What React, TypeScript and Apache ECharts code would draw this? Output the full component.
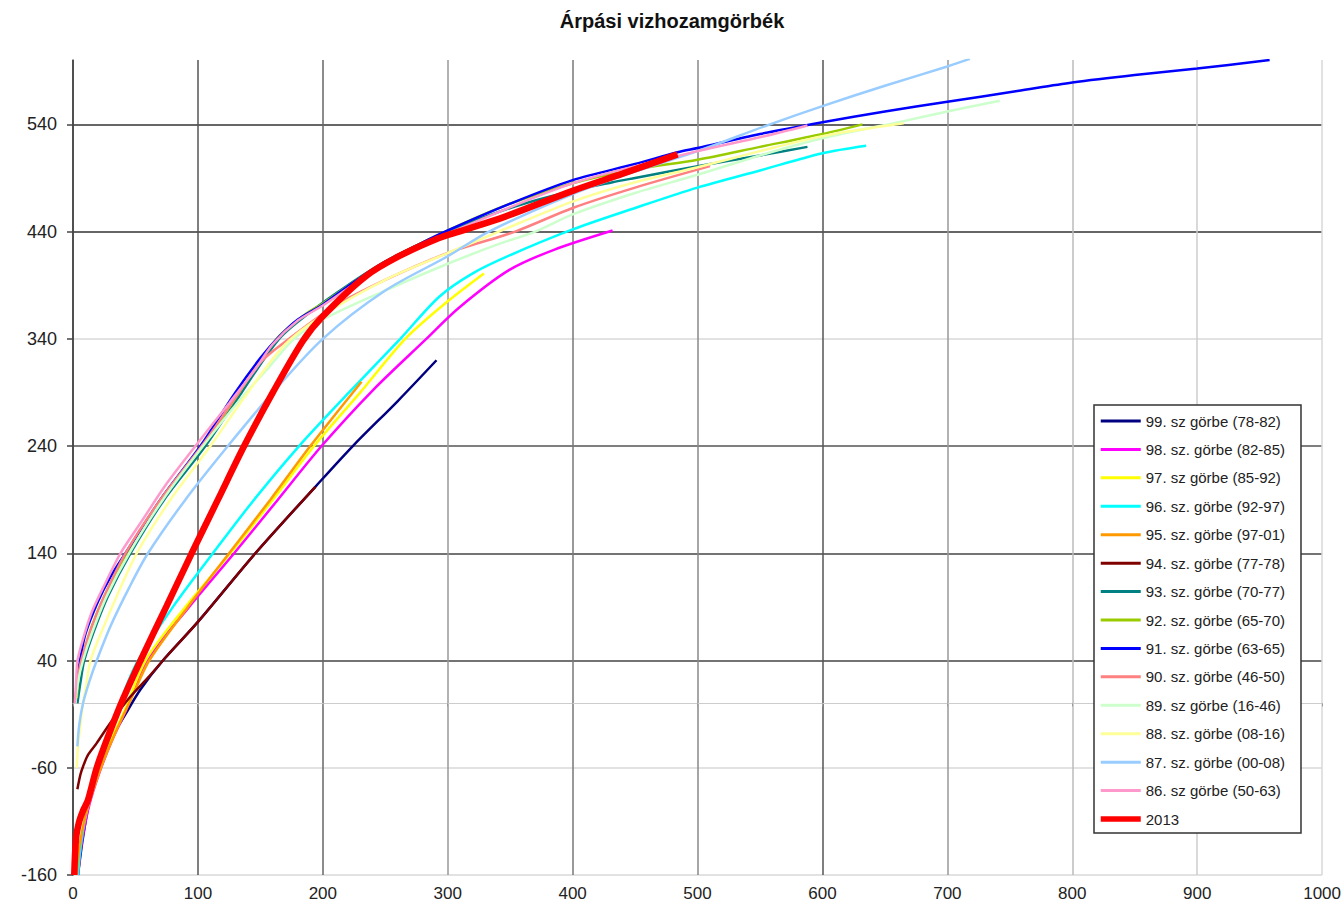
import React, { useEffect, useRef } from "react";
import * as echarts from "echarts";

const TITLE = "Árpási vizhozamgörbék";

const seriesNames = [
  "99. sz görbe (78-82)",
  "98. sz. görbe (82-85)",
  "97. sz görbe (85-92)",
  "96. sz. görbe (92-97)",
  "95. sz. görbe (97-01)",
  "94. sz. görbe (77-78)",
  "93. sz. görbe (70-77)",
  "92. sz. görbe (65-70)",
  "91. sz. görbe (63-65)",
  "90. sz. görbe (46-50)",
  "89. sz görbe (16-46)",
  "88. sz. görbe (08-16)",
  "87. sz. görbe (00-08)",
  "86. sz görbe (50-63)",
  "2013",
];

const seriesColors = [
  "#000080", "#FF00FF", "#FFFF00", "#00FFFF", "#FF9900",
  "#800000", "#008080", "#99CC00", "#0000FF", "#FF8080",
  "#CCFFCC", "#FFFF99", "#99CCFF", "#FF99CC", "#FF0000",
];

const seriesWidths = [2.5, 2.5, 2.5, 2.5, 2.5, 2.5, 2.5, 2.5, 2.5, 2.5, 2.5, 2.5, 2.5, 2.5, 6.5];
const legendWidths = [3, 3, 3, 3, 3, 3, 3, 3, 3, 3, 3, 3, 3, 3, 5.5];

// [discharge, water level]
const s99 = [[4,-160],[8,-125],[15,-80],[22,-55],[30,-34],[42,-10],[54,13],[72,40],[100,76],[146,140],[194,202],[224,240],[260,282],[291,320]];
const s98 = [[4,-160],[7,-130],[13,-95],[21,-65],[31,-35],[43,-5],[59,40],[93,90],[129,140],[164,190],[199,240],[240,292],[282,339],[309,369],[349,404],[385,423],[432,441]];
const s97 = [[3,-160],[6,-130],[12,-95],[20,-65],[30,-35],[42,-5],[58,40],[90,90],[126,140],[160,190],[193,240],[230,290],[266,340],[300,375],[329,401]];
const s96 = [[4,-160],[6,-135],[10,-105],[16,-80],[25,-45],[35,-10],[44,20],[52,40],[80,90],[112,140],[145,190],[181,240],[221,290],[262,340],[293,379],[320,401],[350,418],[400,442],[450,462],[500,481],[550,497],[600,513],[635,520]];
const s95 = [[3,-160],[5,-135],[10,-105],[17,-78],[25,-52],[36,-22],[48,8],[61,40],[92,90],[125,140],[158,190],[190,240],[231,300]];
const s94 = [[3.5,-80],[6,-66],[8,-59],[12,-48],[19,-37],[30,-18],[45,5],[60,24],[75,44],[100,76],[146,140],[194,202]];
const s93 = [[3.5,0],[6,20],[9,40],[16,65],[28,100],[46,140],[73,190],[106,240],[135,290],[165,340],[190,365],[220,390],[250,412],[300,440],[350,462],[400,478],[432,486],[450,490],[500,501],[550,511],[588,519]];
const s92 = [[3,5],[5,30],[8,45],[15,72],[25,100],[43,140],[70,190],[104,240],[133,290],[163,340],[185,362],[200,373],[250,412],[300,441],[350,466],[400,485],[450,498],[500,507],[550,519],[600,531],[632,540]];
const s91 = [[3,20],[5.6,40],[10,65],[20,95],[30,118],[42,140],[70,190],[102,240],[130,290],[150,322],[165,342],[180,358],[200,372],[225,393],[250,412],[275,427],[300,441],[350,466],[400,488],[450,503],[484,514],[500,518],[550,531],[600,542],[650,552],[700,561],[756,571],[800,579],[850,586],[900,592],[958,600]];
const s90 = [[2,5],[4,25],[7,42],[14,68],[25,100],[42,140],[70,190],[103,240],[130,285],[150,318],[173,340],[210,371],[250,395],[300,420],[354,440],[400,462],[450,481],[510,501]];
const s89 = [[2,0],[4,20],[8,40],[15,65],[27,100],[45,140],[72,190],[104,240],[135,285],[158,315],[177,340],[200,358],[250,385],[300,410],[340,428],[370,440],[400,456],[450,476],[500,493],[550,511],[600,527],[665,543],[700,552],[742,562]];
const s88 = [[3,-60],[4,-40],[6,-20],[8,0],[11,20],[14,40],[24,70],[35,100],[51,140],[78,190],[110,240],[140,290],[170,335],[200,362],[250,395],[300,420],[341,440],[400,468],[450,486],[500,500],[550,515],[600,529],[665,541]];
const s87 = [[3.5,-40],[5,-20],[8,0],[13,20],[19,40],[30,72],[45,108],[60,140],[90,190],[124,240],[160,290],[200,340],[250,385],[300,417],[333,440],[400,475],[450,496],[500,515],[558,540],[600,557],[650,576],[700,594],[718,601]];
const s86 = [[1.5,0],[2.5,20],[3.6,40],[8,60],[15,85],[25,110],[38,140],[55,170],[75,205],[98,240],[125,280],[145,310],[160,335],[180,357],[200,371],[250,410],[300,438],[400,485],[500,515],[550,528],[588,539]];
const s2013 = [[1,-160],[2.5,-125],[5,-110],[8,-100],[12,-90],[19,-60],[29,-28],[40,4],[54,40],[75,91],[95,140],[116,190],[137,240],[160,290],[184,338],[200,361],[234,398],[261,417],[293,434],[309,440],[346,454],[400,478],[440,494],[484,512]];

const seriesData = [s99, s98, s97, s96, s95, s94, s93, s92, s91, s90, s89, s88, s87, s86, s2013];

const X_MIN = 0;
const X_MAX = 1000;
const X_STEP = 100;
const Y_MIN = -160;
const Y_MAX = 600;
const Y_STEP = 100;
const Y_TICKS = [-160, -60, 40, 140, 240, 340, 440, 540];

const FONT = "'Liberation Sans', Arial, sans-serif";

export default function App() {
  const ref = useRef<HTMLDivElement>(null);

  useEffect(() => {
    if (!ref.current) return;
    const chart = echarts.init(ref.current, null, { renderer: "svg" });
    chart.setOption({
      animation: false,
      backgroundColor: "#ffffff",
      title: {
        text: TITLE,
        left: "center",
        top: 11,
        padding: 0,
        textStyle: { fontFamily: FONT, fontSize: 20, fontWeight: "bold", color: "#111" },
      },
      grid: { left: 73, right: 18, top: 60, bottom: 36, containLabel: false },
      legend: {
        orient: "vertical",
        left: 1094,
        top: 405,
        padding: [8, 16, 6, 4],
        itemWidth: 40,
        itemHeight: 2,
        itemGap: 12.43,
        backgroundColor: "#ffffff",
        borderColor: "#333",
        borderWidth: 1.5,
        borderRadius: 0,
        selectedMode: false,
        lineStyle: { width: "inherit" },
        textStyle: { fontFamily: FONT, fontSize: 15, color: "#222", lineHeight: 16 },
        data: seriesNames.map((name, i) => ({
          name,
          lineStyle: { width: legendWidths[i], color: seriesColors[i] },
        })),
      },
      xAxis: {
        type: "value",
        min: X_MIN,
        max: X_MAX,
        interval: X_STEP,
        axisLine: { show: true, lineStyle: { color: "#cccccc", width: 1 } },
        axisTick: { show: true, length: 3, lineStyle: { color: "#999" } },
        axisLabel: {
          fontFamily: FONT,
          fontSize: 17,
          color: "#222",
          margin: 10,
          formatter: (v: number) => String(v),
        },
        splitLine: {
          show: true,
          lineStyle: {
            width: 1.5,
            color: ["#444", "#555", "#666", "#999", "#777", "#888", "#555", "#999", "#bbb", "#ccc", "#d8d8d8"],
          },
        },
      },
      yAxis: {
        type: "value",
        min: Y_MIN,
        max: Y_MAX,
        interval: Y_STEP,
        axisLine: { show: true, lineStyle: { color: "#444", width: 1.5 } },
        axisTick: { show: true, length: 6, customValues: Y_TICKS, lineStyle: { color: "#444", width: 1.5 } },
        axisLabel: {
          fontFamily: FONT,
          fontSize: 18,
          color: "#222",
          margin: 16,
          customValues: Y_TICKS,
          formatter: (v: number) => String(v),
        },
        splitLine: {
          show: true,
          lineStyle: {
            width: 1.5,
            color: ["#d8d8d8", "#d8d8d8", "#444", "#444", "#555", "#d8d8d8", "#333", "#333"],
          },
        },
      },
      series: seriesData.map((d, i) => ({
        name: seriesNames[i],
        type: "line",
        data: d,
        smooth: 0.3,
        symbol: "none",
        showSymbol: false,
        clip: true,
        color: seriesColors[i],
        lineStyle: { color: seriesColors[i], width: seriesWidths[i] },
        emphasis: { disabled: true },
      })),
    });
    return () => chart.dispose();
  }, []);

  return (
    <div
      ref={ref}
      style={{ position: "absolute", left: 0, top: 0, width: 1344, height: 911, background: "#fff" }}
    />
  );
}
